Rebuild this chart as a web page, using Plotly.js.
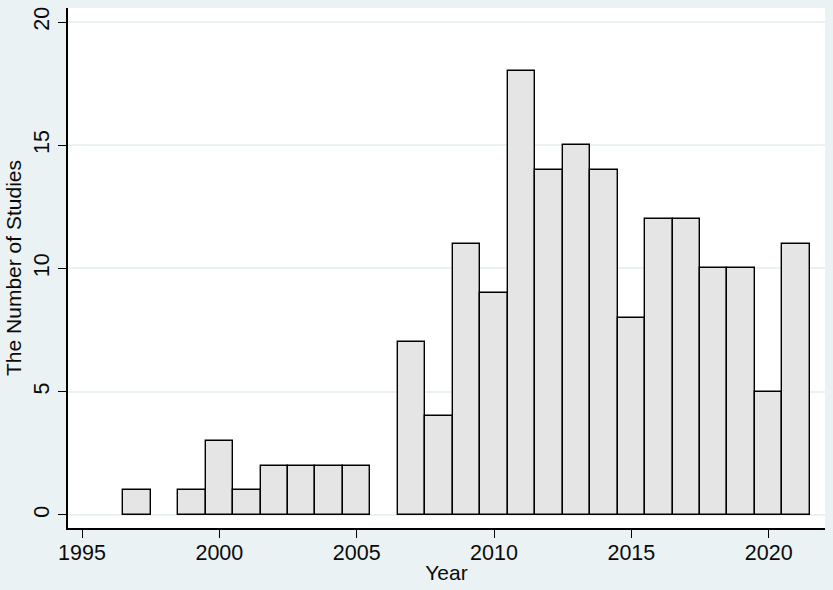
<!DOCTYPE html>
<html>
<head>
<meta charset="utf-8">
<script src="https://cdn.plot.ly/plotly-3.0.1.min.js"></script>
<style>
  html, body { margin: 0; padding: 0; background: #eaf2f3; }
  #chart { width: 833px; height: 590px; }
</style>
</head>
<body>
<div id="chart"></div>
<script>
// ═══════════════════════════════════════════
//  DATA — studies per publication year
// ═══════════════════════════════════════════
const years  = [1997, 1999, 2000, 2001, 2002, 2003, 2004, 2005,
                2007, 2008, 2009, 2010, 2011, 2012, 2013, 2014,
                2015, 2016, 2017, 2018, 2019, 2020, 2021];
const counts = [1, 1, 3, 1, 2, 2, 2, 2,
                7, 4, 11, 9, 18, 14, 15, 14,
                8, 12, 12, 10, 10, 5, 11];
const xTicks = [1995, 2000, 2005, 2010, 2015, 2020];
const yTicks = [0, 5, 10, 15, 20];

const BG   = '#eaf2f3';
const FONT = 'Liberation Sans, Arial, sans-serif';
const INK  = '#0a0a0a';

const trace = {
  type: 'bar',
  x: years,
  y: counts,
  width: 1,
  marker: { color: '#e5e5e5', line: { color: '#000', width: 1.4 } },
  hoverinfo: 'x+y',
};

const axisBase = {
  showline: true, linecolor: '#000', linewidth: 2,
  ticks: 'outside', ticklen: 8, tickwidth: 1.3, tickcolor: '#000',
  tickfont: { family: FONT, size: 21.5, color: INK },
  zeroline: false, fixedrange: true,
};

Plotly.newPlot('chart', [trace], {
  width: 833, height: 590,
  paper_bgcolor: BG, plot_bgcolor: '#fff',
  margin: { l: 68, r: 8, t: 8, b: 62 },
  bargap: 0,
  showlegend: false,
  font: { family: FONT, color: INK },
  xaxis: {
    ...axisBase,
    range: [1994.49, 2022.05],
    tickvals: xTicks,
    ticktext: xTicks.map(String),
    ticklabelstandoff: -4,
    showgrid: false,
    title: { text: 'Year', font: { family: FONT, size: 21, color: INK }, standoff: 2 },
  },
  yaxis: {
    ...axisBase,
    range: [-0.53, 20.57],
    tickvals: yTicks,
    ticktext: yTicks.map(String),
    tickangle: -90,
    showgrid: true, gridcolor: BG, gridwidth: 1.5,
    title: { text: 'The Number of Studies', font: { family: FONT, size: 21, color: INK }, standoff: 3 },
  },
}, { displayModeBar: false, responsive: false });
</script>
</body>
</html>
